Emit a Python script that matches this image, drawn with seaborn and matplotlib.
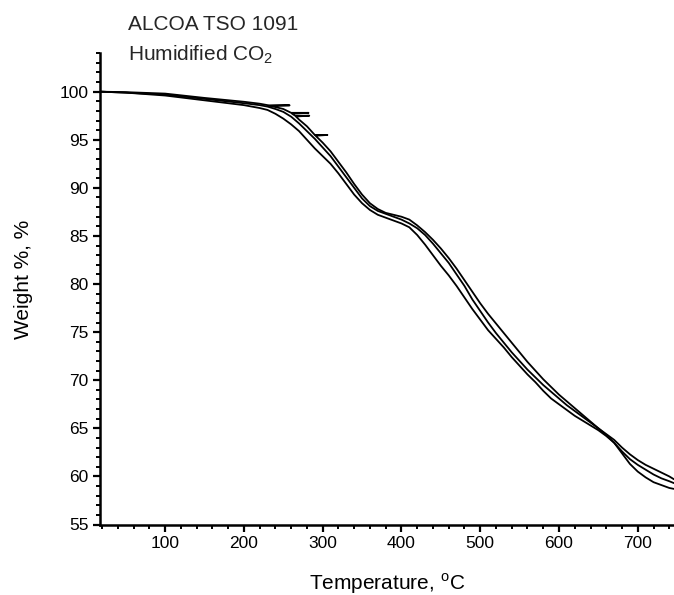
import numpy as np
import pandas as pd
import matplotlib
matplotlib.use("Agg")
import matplotlib.pyplot as plt
from matplotlib.ticker import MultipleLocator
import seaborn as sns

# ---- data (three TGA runs) ----
temp_a = [18, 50, 100, 150, 200, 210, 220, 230, 232, 258, 233, 240, 250, 260, 282, 261, 265,
          283, 266, 270, 280, 290, 306, 291, 300, 310, 320, 330, 340, 350, 360, 370, 380,
          390, 400, 410, 420, 430, 440, 450, 460, 470, 480, 490, 500, 510, 520, 530, 540,
          550, 560, 570, 580, 590, 600, 610, 620, 630, 640, 650, 660, 670, 680, 690, 700,
          710, 720, 730, 740, 746]
weight_a = [100.0, 99.95, 99.8, 99.35, 98.95, 98.85, 98.75, 98.6, 98.58, 98.58, 98.52, 98.4,
            98.2, 97.8, 97.8, 97.72, 97.5, 97.5, 97.42, 97.1, 96.4, 95.5, 95.5, 95.42, 94.7,
            93.8, 92.7, 91.6, 90.4, 89.3, 88.4, 87.8, 87.4, 87.2, 87.0, 86.7, 86.1, 85.4,
            84.6, 83.7, 82.7, 81.6, 80.4, 79.2, 78.0, 76.9, 75.9, 74.9, 73.9, 72.9, 71.9,
            71.0, 70.1, 69.3, 68.5, 67.8, 67.1, 66.4, 65.7, 65.0, 64.4, 63.8, 63.0, 62.3,
            61.7, 61.2, 60.8, 60.4, 60.0, 59.7]

temp_b = [18, 50, 100, 150, 200, 210, 220, 230, 240, 250, 260, 270, 280, 290, 300, 310, 320,
          330, 340, 350, 360, 370, 380, 390, 400, 410, 420, 430, 440, 450, 460, 470, 480,
          490, 500, 510, 520, 530, 540, 550, 560, 570, 580, 590, 600, 610, 620, 630, 640,
          650, 660, 670, 680, 690, 700, 710, 720, 730, 740, 746]
weight_b = [100.0, 99.9, 99.7, 99.25, 98.8, 98.7, 98.6, 98.45, 98.2, 97.9, 97.4, 96.7, 95.9,
            95.1, 94.2, 93.3, 92.2, 91.1, 90.0, 88.9, 88.1, 87.6, 87.3, 87.0, 86.7, 86.3,
            85.8, 85.1, 84.2, 83.2, 82.2, 81.0, 79.8, 78.4, 77.2, 76.0, 74.9, 73.9, 72.9,
            72.0, 71.1, 70.3, 69.5, 68.8, 68.1, 67.4, 66.8, 66.2, 65.6, 65.0, 64.3, 63.5,
            62.6, 61.8, 61.2, 60.7, 60.2, 59.8, 59.5, 59.3]

temp_c = [18, 50, 100, 150, 200, 210, 220, 230, 240, 250, 260, 270, 280, 290, 300, 310, 320,
          330, 340, 350, 360, 370, 380, 390, 400, 410, 420, 430, 440, 450, 460, 470, 480,
          490, 500, 510, 520, 530, 540, 550, 560, 570, 580, 590, 600, 610, 620, 630, 640,
          650, 660, 670, 680, 690, 700, 710, 720, 730, 740, 746]
weight_c = [100.0, 99.9, 99.6, 99.1, 98.6, 98.45, 98.3, 98.1, 97.7, 97.2, 96.6, 95.9, 95.0,
            94.1, 93.3, 92.5, 91.5, 90.4, 89.3, 88.4, 87.7, 87.2, 86.9, 86.6, 86.3, 85.9,
            85.1, 84.1, 83.0, 81.9, 80.9, 79.8, 78.6, 77.4, 76.3, 75.2, 74.3, 73.4, 72.4,
            71.5, 70.6, 69.8, 68.9, 68.1, 67.5, 66.9, 66.3, 65.8, 65.3, 64.8, 64.2, 63.5,
            62.4, 61.3, 60.5, 59.9, 59.4, 59.1, 58.8, 58.7]

x_ticks = [100, 200, 300, 400, 500, 600, 700]
y_ticks = [55, 60, 65, 70, 75, 80, 85, 90, 95, 100]

sns.set_theme(style="ticks")
plt.rcParams["font.family"] = ["Liberation Sans", "DejaVu Sans"]
plt.rcParams["mathtext.fontset"] = "custom"
plt.rcParams["mathtext.rm"] = "Liberation Sans"

fig = plt.figure(figsize=(6.74, 5.95), dpi=100)
ax = fig.add_axes([100.3 / 674, 1 - 524.5 / 595, 1 - 100.3 / 674, (524.5 - 53.2) / 595])

for t, w in [(temp_a, weight_a), (temp_b, weight_b), (temp_c, weight_c)]:
    sns.lineplot(x=t, y=w, sort=False, estimator=None, color="black", linewidth=1.3, ax=ax)

ax.set_xlim(17.7, 746)
ax.set_ylim(55, 104)
ax.set_xticks(x_ticks)
ax.set_yticks(y_ticks)
ax.xaxis.set_minor_locator(MultipleLocator(20))
ax.yaxis.set_minor_locator(MultipleLocator(1))

for s in ["top", "right"]:
    ax.spines[s].set_visible(False)
for s in ["left", "bottom"]:
    ax.spines[s].set_linewidth(1.8)
    ax.spines[s].set_color("black")

ax.tick_params(which="major", direction="out", length=5, width=1.6, labelsize=12.5,
               colors="black", pad=3.5)
ax.tick_params(which="minor", direction="out", length=2.8, width=1.4, colors="black")

ax.set_xlabel("Temperature, $^\\mathregular{o}$C", fontsize=15, color="black")
ax.set_ylabel("Weight %, %", fontsize=15, color="black")
ax.xaxis.set_label_coords(0.5, -0.100)
ax.yaxis.set_label_coords(-0.118, 0.52)

fig.text(128 / 674, 1 - 30 / 595, "ALCOA TSO 1091", fontsize=15, va="baseline", ha="left")
fig.text(128 / 674, 1 - 60 / 595, "Humidified CO$_\\mathregular{2}$", fontsize=15,
         va="baseline", ha="left")

fig.savefig("out.png", dpi=100)
